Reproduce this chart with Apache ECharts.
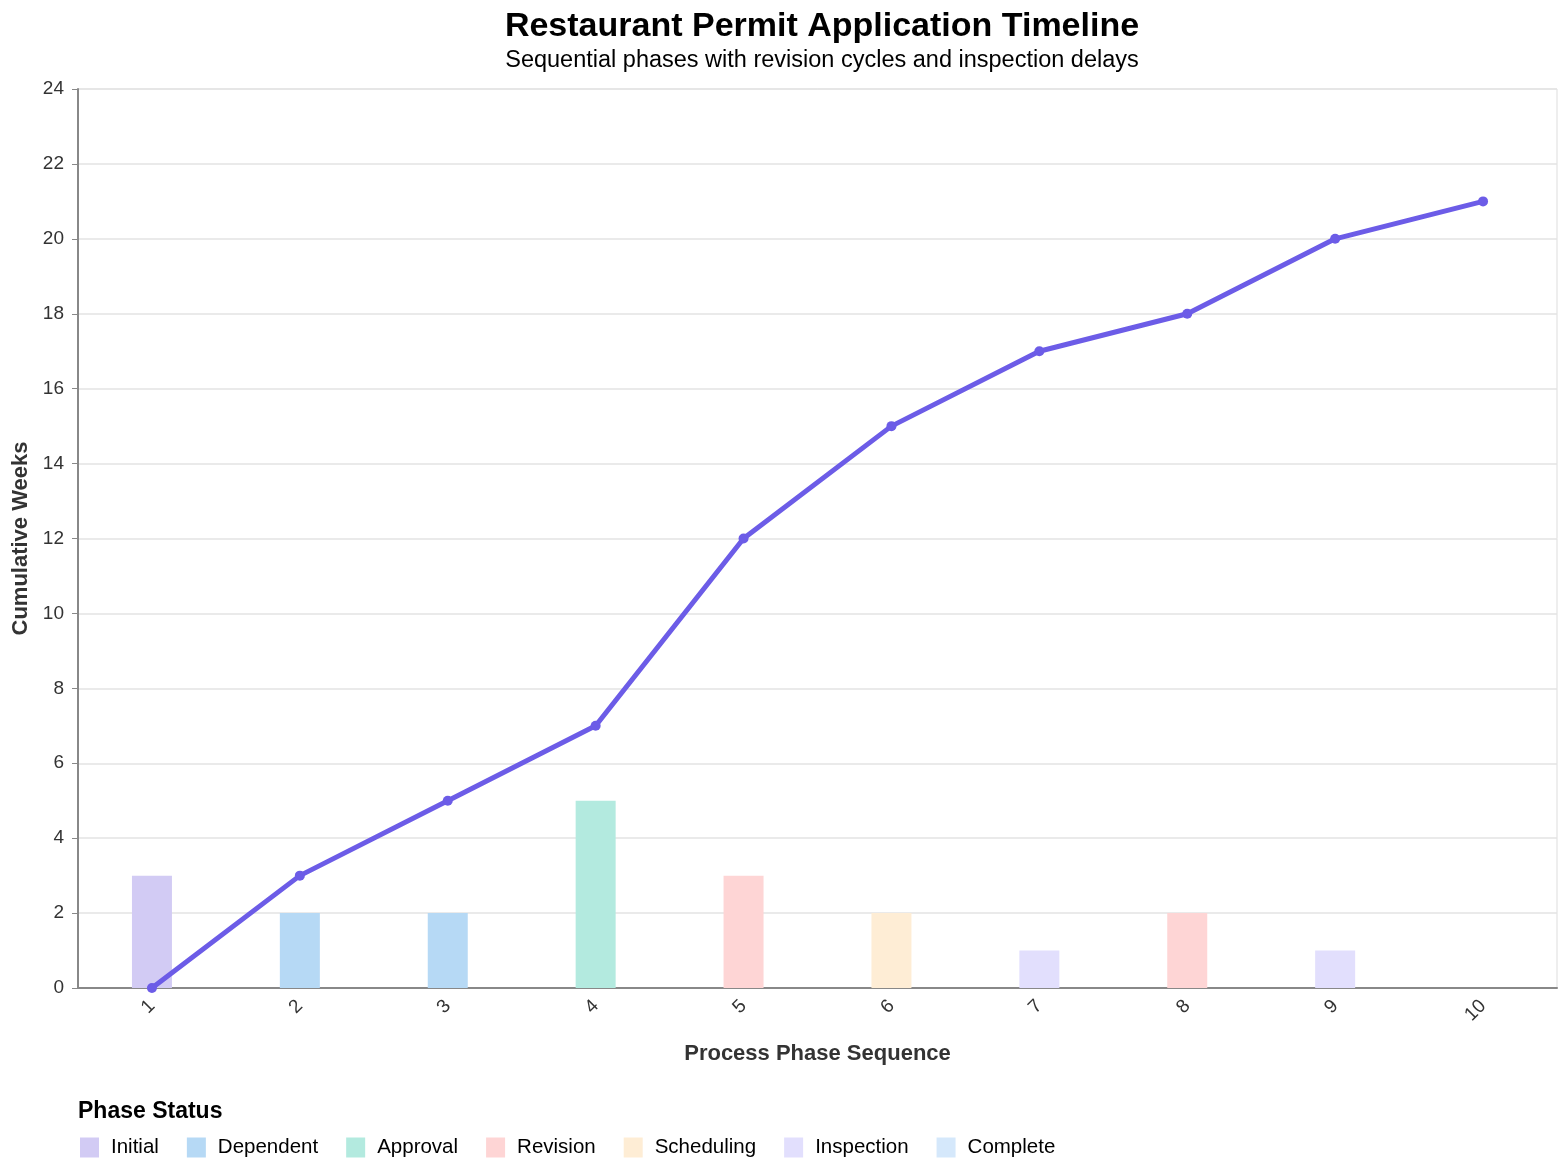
<!DOCTYPE html>
<html>
<head>
<meta charset="utf-8">
<script src="https://cdn.jsdelivr.net/npm/echarts@6/dist/echarts.min.js"></script>
<style>
  html, body { margin: 0; padding: 0; background: #fff; }
  #chart { width: 1568px; height: 1168px; }
</style>
</head>
<body>
<div id="chart"></div>
<script>
// Restaurant permit timeline - phase durations (bars) + cumulative weeks (line)
const phases = ['1', '2', '3', '4', '5', '6', '7', '8', '9', '10'];
const durations = [3, 2, 2, 5, 3, 2, 1, 2, 1, 0];
const statuses = ['Initial', 'Dependent', 'Dependent', 'Approval', 'Revision',
  'Scheduling', 'Inspection', 'Revision', 'Inspection', 'Complete'];
const cumulativeWeeks = [0, 3, 5, 7, 12, 15, 17, 18, 20, 21];

const statusOrder = ['Initial', 'Dependent', 'Approval', 'Revision', 'Scheduling', 'Inspection', 'Complete'];
const statusColors = {
  Initial: '#d2cbf4',
  Dependent: '#b6d9f5',
  Approval: '#b3eadf',
  Revision: '#fed5d5',
  Scheduling: '#feedd5',
  Inspection: '#e2dffd',
  Complete: '#d5e8fb',
};

const FONT = 'Liberation Sans, Arial, Helvetica, sans-serif';

const chart = echarts.init(document.getElementById('chart'));

// one bar series per status so the legend lists them
const barSeries = statusOrder.map(status => ({
  name: status,
  type: 'bar',
  barWidth: 40,
  barGap: '-100%',
  itemStyle: { color: statusColors[status] },
  data: durations.map((d, i) => (statuses[i] === status ? d : '-')),
  z: 2,
}));

const option = {
  backgroundColor: '#fff',
  animation: false,
  textStyle: { fontFamily: FONT },
  title: [
    {
      text: 'Restaurant Permit Application Timeline',
      left: 817,
      top: 5,
      textAlign: 'center',
      textStyle: { fontFamily: FONT, fontSize: 34, fontWeight: 'bold', color: '#000' },
    },
    {
      text: 'Sequential phases with revision cycles and inspection delays',
      left: 817,
      top: 44,
      textAlign: 'center',
      textStyle: { fontFamily: FONT, fontSize: 23.5, fontWeight: 'normal', color: '#000' },
    },
    {
      text: 'Phase Status',
      left: 78,
      top: 1100,
      padding: 0,
      textStyle: { fontFamily: FONT, fontSize: 23, fontWeight: 'bold', color: '#000' },
    },
  ],
  legend: {
    data: statusOrder,
    left: 80,
    top: 1137,
    padding: 0,
    icon: 'rect',
    itemWidth: 19,
    itemHeight: 20,
    itemGap: 28,
    selectedMode: false,
    textStyle: { fontFamily: FONT, fontSize: 20.5, color: '#000', padding: [0, 0, 0, 7] },
  },
  grid: {
    left: 78,
    right: 11,
    top: 89,
    bottom: 180,
    show: true,
    borderColor: '#dddddd',
    borderWidth: 1,
  },
  xAxis: {
    type: 'category',
    data: phases,
    boundaryGap: true,
    name: 'Process Phase Sequence',
    nameLocation: 'middle',
    nameGap: 55,
    nameTextStyle: { fontFamily: FONT, fontSize: 22, fontWeight: 'bold', color: '#333' },
    axisLine: { lineStyle: { color: '#888', width: 2 } },
    axisTick: { alignWithLabel: true, length: 6, lineStyle: { color: '#888' } },
    axisLabel: { rotate: 45, fontSize: 19, color: '#333', margin: 15 },
    splitLine: { show: false },
  },
  yAxis: {
    type: 'value',
    min: 0,
    max: 24,
    interval: 2,
    name: 'Cumulative Weeks',
    nameLocation: 'middle',
    nameGap: 45,
    nameTextStyle: { fontFamily: FONT, fontSize: 22, fontWeight: 'bold', color: '#333' },
    axisLine: { show: true, lineStyle: { color: '#888', width: 2 } },
    axisTick: { show: true, length: 6, lineStyle: { color: '#888' } },
    axisLabel: { fontSize: 19, color: '#333', margin: 14 },
    splitLine: { lineStyle: { color: '#e3e3e3', width: 1.5 } },
  },
  series: [
    ...barSeries,
    {
      name: 'Cumulative',
      type: 'line',
      data: cumulativeWeeks,
      symbol: 'circle',
      symbolSize: 10,
      lineStyle: { color: '#6c5ce7', width: 5 },
      itemStyle: { color: '#6c5ce7' },
      z: 5,
    },
  ],
};

chart.setOption(option);
</script>
</body>
</html>
